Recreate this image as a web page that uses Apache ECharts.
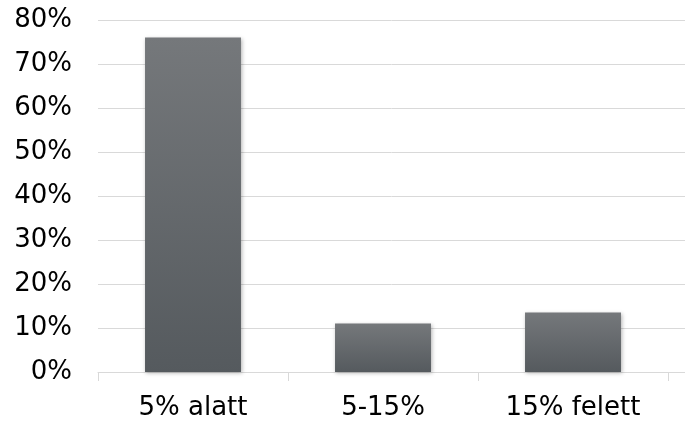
<!DOCTYPE html>
<html>
<head>
<meta charset="utf-8">
<script src="https://cdn.jsdelivr.net/npm/echarts@6/dist/echarts.min.js"></script>
<style>
  html, body { margin: 0; padding: 0; background: #ffffff; }
  #chart { width: 685px; height: 422px; }
</style>
</head>
<body>
<div id="chart"></div>
<script>
// Share of responses by range
const categories = ['5% alatt', '5-15%', '15% felett'];
const shares = [0.76, 0.11, 0.135];
const yTicks = { min: 0, max: 0.8, interval: 0.1 };

const labelFont = { color: '#000', fontFamily: 'DejaVu Sans', fontSize: 26 };
const ruleColor = '#d9d9d9';

const chart = echarts.init(document.getElementById('chart'));
chart.setOption({
  animation: false,
  grid: [
    { left: 98, right: 17, top: 20, bottom: 50 },
    // wider grid carrying the gridlines and base line out to the edge
    { left: 98, right: 0, top: 20, bottom: 50 }
  ],
  xAxis: [{
    type: 'category',
    gridIndex: 0,
    data: categories,
    axisLine: { show: false },
    axisTick: { show: true, length: 9, lineStyle: { color: ruleColor } },
    axisLabel: Object.assign({ margin: 23 }, labelFont),
    z: 3
  }, {
    type: 'value',
    gridIndex: 1,
    min: 0, max: 1,
    axisLine: { show: true, lineStyle: { color: ruleColor, width: 1 } },
    axisTick: { show: false },
    axisLabel: { show: false },
    splitLine: { show: false }
  }],
  yAxis: [{
    type: 'value',
    gridIndex: 0,
    min: yTicks.min, max: yTicks.max, interval: yTicks.interval,
    axisLine: { show: false },
    axisTick: { show: false },
    splitLine: { show: false },
    axisLabel: Object.assign({
      margin: 26,
      formatter: v => Math.round(v * 100) + '%'
    }, labelFont)
  }, {
    type: 'value',
    gridIndex: 1,
    min: yTicks.min, max: yTicks.max, interval: yTicks.interval,
    axisLine: { show: false },
    axisTick: { show: false },
    axisLabel: { show: false },
    splitLine: { lineStyle: { color: ruleColor, width: 1 } }
  }],
  series: [{
    type: 'bar',
    xAxisIndex: 0,
    yAxisIndex: 0,
    data: shares,
    barWidth: '50.5%',
    z: 5,
    itemStyle: {
      color: new echarts.graphic.LinearGradient(0, 0, 0, 1, [
        { offset: 0, color: '#75787b' },
        { offset: 1, color: '#555a5e' }
      ]),
      shadowColor: 'rgba(0,0,0,0.3)',
      shadowBlur: 4,
      shadowOffsetX: 1,
      shadowOffsetY: 1
    }
  }]
});
</script>
</body>
</html>
